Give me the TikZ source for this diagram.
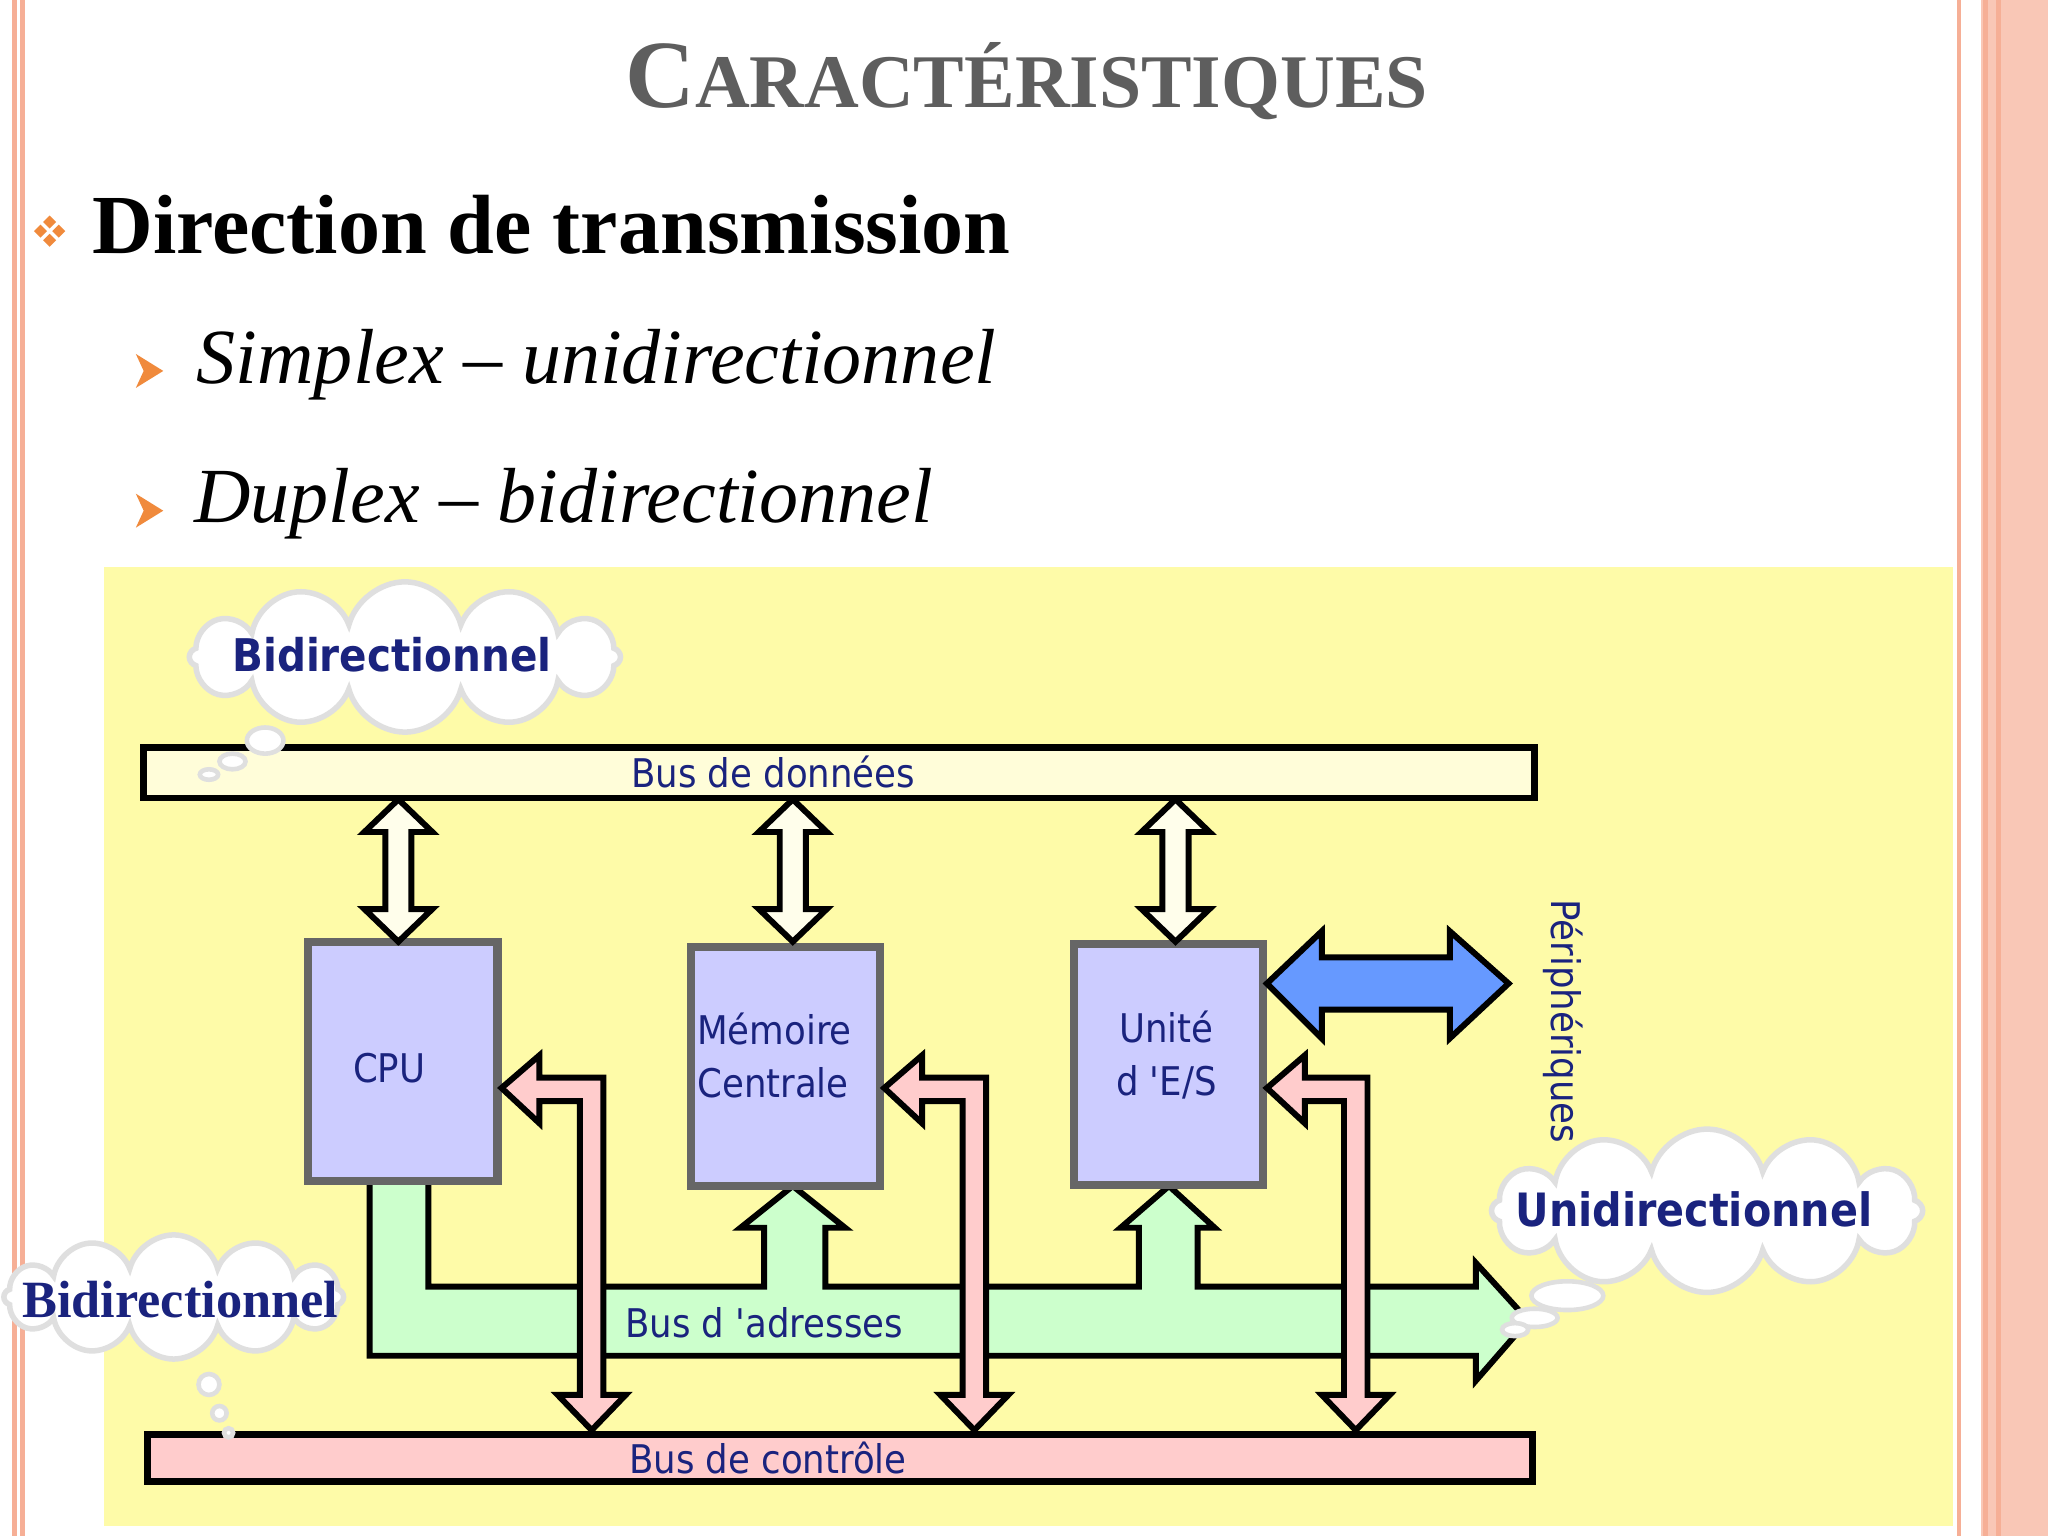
\documentclass[tikz,border=0pt]{standalone}
\usepackage{fontspec}
\setmainfont{Liberation Serif}
\newfontfamily\dv{DejaVu Sans Condensed}
\newfontfamily\dvb{DejaVu Sans Condensed Bold}
\usetikzlibrary{shapes.symbols,shapes.geometric}
\definecolor{panel}{HTML}{FEFBA8}
\definecolor{salmon}{HTML}{F6AF96}
\definecolor{navy}{HTML}{1A237E}
\definecolor{boxb}{HTML}{CCCCFF}
\definecolor{pinkc}{HTML}{FFCCCC}
\definecolor{greenc}{HTML}{CCFFCC}
\definecolor{bluec}{HTML}{6699FF}
\definecolor{orangeb}{HTML}{F08A3C}
\tikzset{
  unit/.style={draw=gray!80!black, line width=1.8pt, fill=boxb},
  lbl/.style={font=\dv\fontsize{8.6}{11.5}\selectfont, text=navy, inner sep=0pt},
  cl/.style={cloud, cloud puffs=12, draw=gray!25, line width=1.2pt, fill=white, aspect=2.8},
  bub/.style={circle, draw=gray!25, line width=1pt, fill=white, inner sep=0pt},
  arr/.style={draw=black, line width=1.3pt, line join=miter},
}
\newcommand{\dbarrow}[1]{\draw[arr, fill=yellow!8] (#1,612) -- ({#1+26},637) -- ({#1+10},637) -- ({#1+10},696) -- ({#1+26},696) -- (#1,721) -- ({#1-26},696) -- ({#1-10},696) -- ({#1-10},637) -- ({#1-26},637) -- cycle;}
\newcommand{\pkarrow}[2]{\draw[arr, fill=pinkc] (#1,833) -- ({#1+29},808) -- ({#1+29},825) -- ({#2+18},825) -- ({#2+18},1068) -- ({#2+35},1068) -- ({#2+9},1095) -- ({#2-17},1068) -- (#2,1068) -- (#2,843) -- ({#1+29},843) -- ({#1+29},860) -- cycle;}
\begin{document}
\begin{tikzpicture}[x=0.01cm, y=-0.01cm]
\useasboundingbox (0,0) rectangle (1568,1176);
\fill[white] (0,0) rectangle (1568,1176);
% borders
\draw[salmon, line width=1pt] (11,0) -- (11,1176);
\draw[salmon, line width=1pt] (17,0) -- (17,1176);
\draw[salmon, line width=1pt] (1500,0) -- (1500,1176);
\fill[salmon!70] (1517,0) rectangle (1568,1176);
\draw[salmon, line width=1pt] (1520,0) -- (1520,1176);
\draw[salmon, line width=1pt] (1530,0) -- (1530,1176);
% title
\node[text=gray!60!black!90, font=\bfseries, inner sep=0pt] (title) at (786,62)
  {\fontsize{21}{24}\selectfont C\fontsize{16.5}{20}\selectfont ARACTÉRISTIQUES};
% bullets
\foreach \dx/\dy in {-7/0,7/0,0/-7,0/7}
  \fill[orangeb] ({38+\dx},{177+\dy-5}) -- ++(5,5) -- ++(-5,5) -- ++(-5,-5) -- cycle;
\node[anchor=west, font=\bfseries\fontsize{18.3}{22}\selectfont, inner sep=0pt] (b1) at (70,172) {Direction de transmission};
\foreach \yy in {284,391}{
  \fill[orangeb] (104,{\yy-13}) -- (125,\yy) -- (104,{\yy+13}) -- (110,\yy) -- cycle;
}
\node[anchor=west, font=\itshape\fontsize{17}{20}\selectfont, inner sep=0pt] (s1) at (150,279) {Simplex – unidirectionnel};
\node[anchor=west, font=\itshape\fontsize{17}{20}\selectfont, inner sep=0pt] (s2) at (148,386) {Duplex – bidirectionnel};
% panel
\fill[panel] (80,434) rectangle (1495,1168);
% buses
\draw[line width=1.5pt, fill=yellow!15] (110,572) rectangle (1175,611);
\node[lbl] (bd) at (592,591) {Bus de données};
\draw[line width=1.5pt, fill=pinkc] (113,1098) rectangle (1173,1134);
\node[lbl] (bc) at (588,1116) {Bus de contrôle};
% green address bus
\draw[arr, fill=greenc] (283,904) -- (328,904) -- (328,985) -- (585,985) -- (585,940) -- (567,940) -- (607,908) -- (647,940) -- (632,940) -- (632,985) -- (872,985) -- (872,940) -- (858,940) -- (895,908) -- (930,940) -- (917,940) -- (917,985) -- (1130,985) -- (1130,967) -- (1170,1011) -- (1130,1057) -- (1130,1038) -- (283,1038) -- cycle;
\node[lbl] (ba) at (585,1013) {Bus d 'adresses};
% units
\draw[unit] (236,721) rectangle (381,904);
\node[lbl] (cpu) at (298,818) {CPU};
\draw[unit] (529,725) rectangle (674,908);
\node[lbl, align=left] (mem) at (593,808) {Mémoire\\Centrale};
\draw[unit] (822,723) rectangle (967,907);
\node[lbl, align=center] (es) at (893,808) {Unité\\d 'E/S};
% data arrows
\dbarrow{305}
\dbarrow{607}
\dbarrow{900}
% control arrows
\pkarrow{384}{444}
\pkarrow{677}{737}
\pkarrow{970}{1029}
% blue arrow
\draw[arr, fill=bluec] (970,753) -- (1012,713) -- (1012,733) -- (1110,733) -- (1110,713) -- (1155,753) -- (1110,795) -- (1110,773) -- (1012,773) -- (1012,795) -- cycle;
\node[lbl, rotate=-90] (per) at (1197,782) {Périphériques};
% clouds
\node[cl, minimum width=3.3cm, minimum height=1.15cm] (c1) at (310,503) {};
\node[font=\dvb\fontsize{9.8}{12}\selectfont, text=navy] (t1) at (300,501) {Bidirectionnel};
\node[bub, ellipse, minimum width=0.28cm, minimum height=0.2cm] (c1a) at (203,567) {};
\node[bub, ellipse, minimum width=0.2cm, minimum height=0.12cm] (c1b) at (178,583) {};
\node[bub, ellipse, minimum width=0.14cm, minimum height=0.08cm] (c1c) at (160,593) {};
\node[cl, minimum width=2.6cm, minimum height=0.95cm] (c2) at (133,993) {};
\node[font=\bfseries\fontsize{11.4}{14}\selectfont, text=navy] (t2) at (138,995) {Bidirectionnel};
\node[bub, minimum size=0.16cm] (c2a) at (160,1060) {};
\node[bub, minimum size=0.11cm] (c2b) at (168,1082) {};
\node[bub, minimum size=0.07cm] (c2c) at (175,1097) {};
\node[cl, minimum width=3.3cm, minimum height=1.25cm] (c3) at (1307,927) {};
\node[font=\dvb\fontsize{10}{12}\selectfont, text=navy] (t3) at (1297,926) {Unidirectionnel};
\node[bub, ellipse, minimum width=0.55cm, minimum height=0.22cm] (c3a) at (1200,992) {};
\node[bub, ellipse, minimum width=0.35cm, minimum height=0.14cm] (c3b) at (1175,1009) {};
\node[bub, ellipse, minimum width=0.2cm, minimum height=0.1cm] (c3c) at (1160,1018) {};
\end{tikzpicture}
\end{document}
